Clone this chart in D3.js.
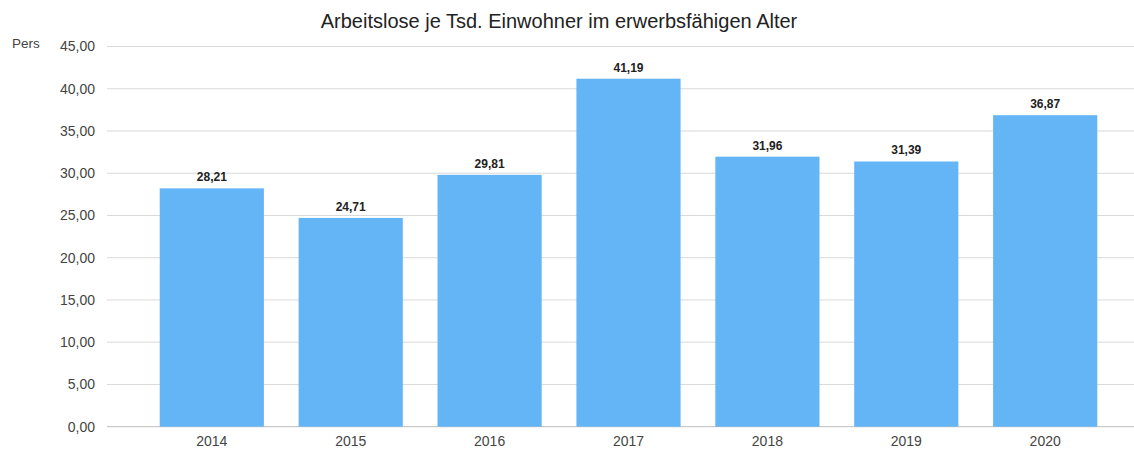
<!DOCTYPE html>
<html><head><meta charset="utf-8">
<script src="https://cdn.jsdelivr.net/npm/d3@7"></script>
<style>body{margin:0;background:#fff;}svg{display:block;font-family:"Liberation Sans",Arial,sans-serif;}</style>
</head><body>
<svg id="c" width="1134" height="450"></svg>
<script>
const categories = ["2014","2015","2016","2017","2018","2019","2020"];
const values = [28.21,24.71,29.81,41.19,31.96,31.39,36.87];
const yTicks = [0,5,10,15,20,25,30,35,40,45];
const title = "Arbeitslose je Tsd. Einwohner im erwerbsfähigen Alter";
const unitLabel = "Pers";

const svg = d3.select("#c");
const fmt = v => d3.format(".2f")(v).replace(".", ",");
const x = d3.scaleBand().domain(categories).range([125, 1132]).paddingInner(0.25).paddingOuter(0.25);
const y = d3.scaleLinear().domain([0,45]).range([426.7, 46.5]);

// gridlines
svg.append("g").selectAll("line").data(yTicks).join("line")
  .attr("x1",107).attr("x2",1134)
  .attr("y1",d=>y(d)).attr("y2",d=>y(d))
  .attr("stroke",d=>d===0?"#bdbdbd":"#d9d9d9").attr("stroke-width",1);

// y labels
const yAxis = d3.axisLeft(y).tickValues(yTicks).tickFormat(fmt).tickSize(0).tickPadding(0);
const ga = svg.append("g").attr("transform","translate(95,0)").call(yAxis);
ga.select(".domain").remove();
ga.selectAll("text").attr("font-size",14).attr("fill","#444").attr("font-family","Liberation Sans, Arial, sans-serif");

svg.append("text").attr("x",12).attr("y",y(45)+1).attr("font-size",13.5).attr("fill","#444").text(unitLabel);

// bars
svg.append("g").selectAll("rect").data(values).join("rect")
  .attr("x",(d,i)=>x(categories[i])).attr("width",x.bandwidth())
  .attr("y",d=>y(d)).attr("height",d=>y(0)-y(d)).attr("fill","#64b5f6");

// value labels
svg.append("g").selectAll("text").data(values).join("text")
  .attr("x",(d,i)=>x(categories[i])+x.bandwidth()/2).attr("y",d=>y(d)-7)
  .attr("text-anchor","middle").attr("font-size",12).attr("font-weight",600).attr("fill","#222")
  .text(fmt);

// x axis labels
const xAxis = d3.axisBottom(x).tickSize(0).tickPadding(0);
const gx = svg.append("g").attr("transform","translate(0,436)").call(xAxis);
gx.select(".domain").remove();
gx.selectAll("text").attr("font-size",14).attr("fill","#444").attr("dy","0.71em").attr("font-family","Liberation Sans, Arial, sans-serif");

// title
svg.append("text").attr("x",559).attr("y",28).attr("text-anchor","middle").attr("font-size",20).attr("fill","#222").text(title);
</script>
</body></html>
